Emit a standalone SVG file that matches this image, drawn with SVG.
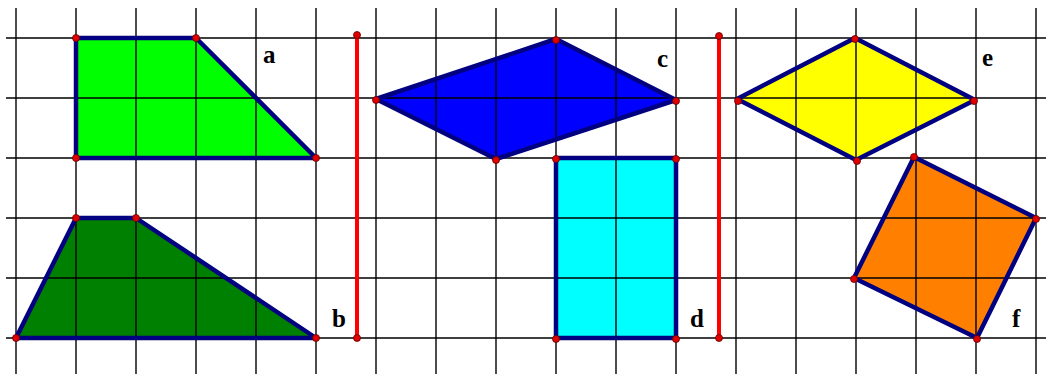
<svg xmlns="http://www.w3.org/2000/svg" width="1049" height="374" viewBox="0 0 1049 374">
<defs>
<style>
.grid line{stroke:#000;stroke-width:1.4}
.fillshape{stroke:none}
.outline{fill:none;stroke:#000080;stroke-width:4.5;stroke-linejoin:round}
.pt{fill:#e00000;stroke:#600000;stroke-width:0.8}
.red{stroke:#ff0000;stroke-width:4}
.lbl{font-family:"Liberation Serif",serif;font-weight:bold;font-size:25px;fill:#000}
</style>
</defs>
<rect width="1049" height="374" fill="#fff"/>
<g id="fills">
<g id="shape-a"><polygon class="fillshape" fill="#00ff00" points="76,38 196,38 316,158 76,158"/></g>
<g id="shape-b"><polygon class="fillshape" fill="#008000" points="16,338 76,218 136,218 316,338"/></g>
<g id="shape-c"><polygon class="fillshape" fill="#0000ff" points="376,99 556,39 676,100 496,159"/></g>
<g id="shape-d"><polygon class="fillshape" fill="#00ffff" points="556,158 676,158 676,338 556,338"/></g>
<g id="shape-e"><polygon class="fillshape" fill="#ffff00" points="737,99 855,38 975,100 856,160"/></g>
<g id="shape-f"><polygon class="fillshape" fill="#ff8000" points="914,157 1036,218 977,338 854,278"/></g>
</g>
<g class="grid" id="grid">
<line x1="6" y1="38" x2="1046" y2="38"/>
<line x1="6" y1="98" x2="1046" y2="98"/>
<line x1="6" y1="158" x2="1046" y2="158"/>
<line x1="6" y1="218" x2="1046" y2="218"/>
<line x1="6" y1="278" x2="1046" y2="278"/>
<line x1="6" y1="338" x2="1046" y2="338"/>
<line x1="16" y1="8" x2="16" y2="374"/>
<line x1="76" y1="8" x2="76" y2="374"/>
<line x1="136" y1="8" x2="136" y2="374"/>
<line x1="196" y1="8" x2="196" y2="374"/>
<line x1="256" y1="8" x2="256" y2="374"/>
<line x1="316" y1="8" x2="316" y2="374"/>
<line x1="376" y1="8" x2="376" y2="374"/>
<line x1="436" y1="8" x2="436" y2="374"/>
<line x1="496" y1="8" x2="496" y2="374"/>
<line x1="556" y1="8" x2="556" y2="374"/>
<line x1="616" y1="8" x2="616" y2="374"/>
<line x1="676" y1="8" x2="676" y2="374"/>
<line x1="736" y1="8" x2="736" y2="374"/>
<line x1="796" y1="8" x2="796" y2="374"/>
<line x1="856" y1="8" x2="856" y2="374"/>
<line x1="916" y1="8" x2="916" y2="374"/>
<line x1="976" y1="8" x2="976" y2="374"/>
<line x1="1036" y1="8" x2="1036" y2="374"/>
</g>
<g id="outlines">
<polygon class="outline" points="76,38 196,38 316,158 76,158"/>
<polygon class="outline" points="16,338 76,218 136,218 316,338"/>
<polygon class="outline" points="376,99 556,39 676,100 496,159"/>
<polygon class="outline" points="556,158 676,158 676,338 556,338"/>
<polygon class="outline" points="737,99 855,38 975,100 856,160"/>
<polygon class="outline" points="914,157 1036,218 977,338 854,278"/>
</g>
<g id="dividers">
<line class="red" x1="357" y1="35" x2="357" y2="338"/>
<line class="red" x1="719" y1="36" x2="719" y2="338"/>
</g>
<g id="points">
<circle class="pt" cx="76" cy="38" r="3.5"/>
<circle class="pt" cx="196" cy="38" r="3.5"/>
<circle class="pt" cx="316" cy="158" r="3.5"/>
<circle class="pt" cx="76" cy="158" r="3.5"/>
<circle class="pt" cx="16" cy="338" r="3.5"/>
<circle class="pt" cx="76" cy="218" r="3.5"/>
<circle class="pt" cx="136" cy="218" r="3.5"/>
<circle class="pt" cx="316" cy="338" r="3.5"/>
<circle class="pt" cx="376" cy="100" r="3.5"/>
<circle class="pt" cx="556" cy="40" r="3.5"/>
<circle class="pt" cx="676" cy="101" r="3.5"/>
<circle class="pt" cx="496" cy="160" r="3.5"/>
<circle class="pt" cx="556" cy="159" r="3.5"/>
<circle class="pt" cx="676" cy="159" r="3.5"/>
<circle class="pt" cx="556" cy="339" r="3.5"/>
<circle class="pt" cx="676" cy="339" r="3.5"/>
<circle class="pt" cx="738" cy="101" r="3.5"/>
<circle class="pt" cx="855" cy="39" r="3.5"/>
<circle class="pt" cx="974" cy="101" r="3.5"/>
<circle class="pt" cx="857" cy="161" r="3.5"/>
<circle class="pt" cx="914" cy="157" r="3.5"/>
<circle class="pt" cx="1036" cy="219" r="3.5"/>
<circle class="pt" cx="977" cy="339" r="3.5"/>
<circle class="pt" cx="854" cy="279" r="3.5"/>
<circle class="pt" cx="357" cy="35" r="3.5"/>
<circle class="pt" cx="357" cy="338" r="3.5"/>
<circle class="pt" cx="719" cy="36" r="3.5"/>
<circle class="pt" cx="719" cy="338" r="3.5"/>
</g>
<g id="labels">
<text class="lbl" x="263" y="63">a</text>
<text class="lbl" x="332" y="327">b</text>
<text class="lbl" x="657" y="67">c</text>
<text class="lbl" x="690" y="327">d</text>
<text class="lbl" x="982" y="66">e</text>
<text class="lbl" x="1012" y="327">f</text>
</g>
</svg>
